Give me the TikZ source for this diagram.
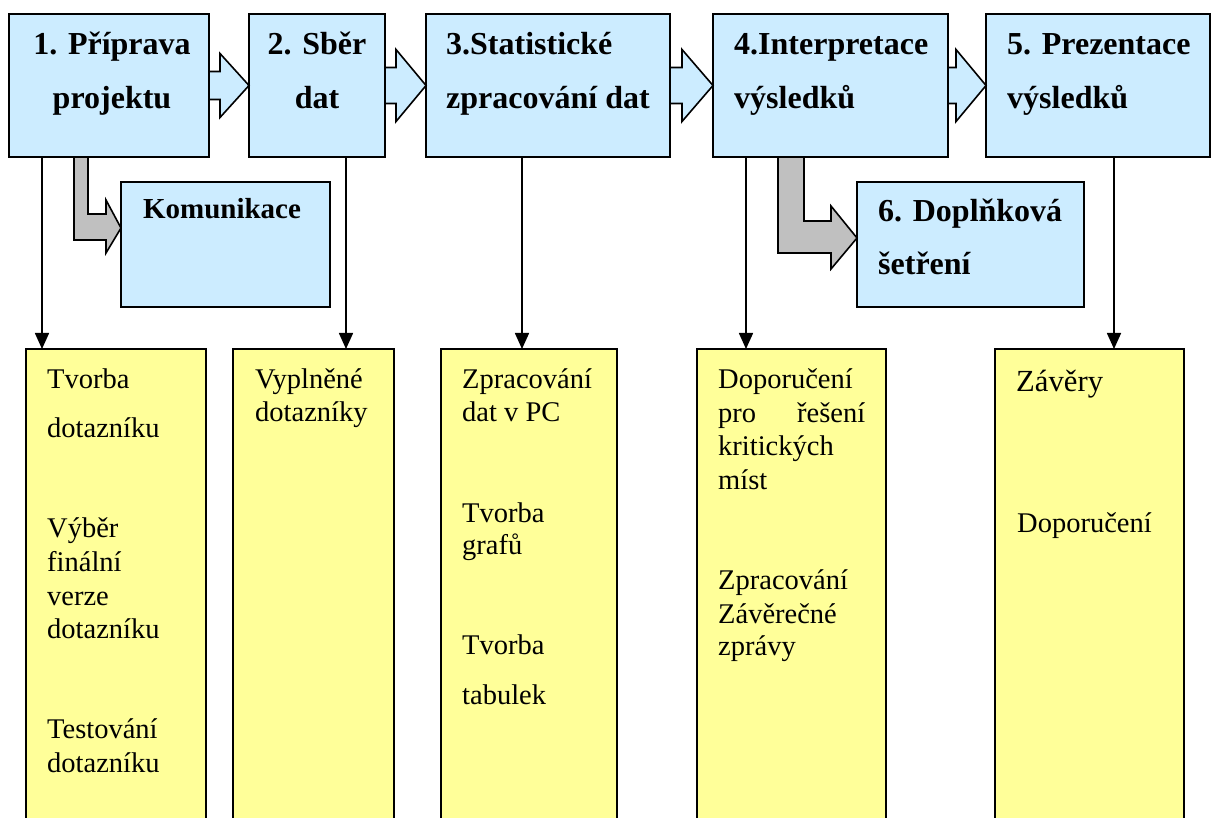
\documentclass[tikz,border=0pt]{standalone}
\usepackage{fontspec}
\setmainfont{Liberation Serif}
\usetikzlibrary{arrows.meta,calc}
\definecolor{stepblue}{HTML}{CCECFF}
\definecolor{noteyellow}{HTML}{FFFF99}
\definecolor{bendgray}{HTML}{C0C0C0}
\tikzset{
  phase/.style={draw=black, fill=stepblue, line width=1.6pt, anchor=north west, inner sep=0pt, outer sep=0pt},
  note/.style={draw=black, fill=noteyellow, line width=1.6pt, anchor=north west, inner sep=0pt, outer sep=0pt},
  flow/.style={draw=black, fill=stepblue, line width=1.6pt, line join=miter},
  elbow/.style={draw=black, fill=bendgray, line width=1.6pt, line join=miter},
  link/.style={draw=black, line width=1.6pt, -{Triangle[length=16pt,width=14pt]}},
  ttl/.style={inner sep=0pt, font=\fontsize{32}{36}\selectfont\bfseries},
  body/.style={anchor=base west, inner sep=0pt, font=\fontsize{28.5}{32}\selectfont},
}
\begin{document}
\begin{tikzpicture}[x=1pt,y=-1pt]
\useasboundingbox (0,0) rectangle (1213,818);
\clip (0,0) rectangle (1213,818);
\fill[white] (0,0) rectangle (1213,818);

% main phases
\node[phase, minimum width=200pt, minimum height=143pt] (b1) at (9,14) {};
\node[phase, minimum width=136pt, minimum height=143pt] (b2) at (249,14) {};
\node[phase, minimum width=244pt, minimum height=143pt] (b3) at (426,14) {};
\node[phase, minimum width=235pt, minimum height=143pt] (b4) at (713,14) {};
\node[phase, minimum width=224pt, minimum height=143pt] (b5) at (986,14) {};

% side phases
\node[phase, minimum width=209pt, minimum height=125pt] (k) at (121,182) {};
\node[phase, minimum width=227pt, minimum height=125pt] (b6) at (857,182) {};

% activity columns
\node[note, minimum width=180pt, minimum height=481pt] (y1) at (26,349) {};
\node[note, minimum width=161pt, minimum height=481pt] (y2) at (233,349) {};
\node[note, minimum width=176pt, minimum height=481pt] (y3) at (441,349) {};
\node[note, minimum width=189pt, minimum height=481pt] (y4) at (697,349) {};
\node[note, minimum width=189pt, minimum height=481pt] (y5) at (995,349) {};

% block arrows between phases
\draw[flow] ($(b1.east)+(0,-14)$) -- ++(11,0) -- ++(0,-18) -- (b2.west)
  -- ($(b1.east)+(11,32)$) -- ++(0,-18) -- ++(-11,0) -- cycle;
\draw[flow] ($(b2.east)+(0,-18)$) -- ++(11,0) -- ++(0,-18) -- (b3.west)
  -- ($(b2.east)+(11,36)$) -- ++(0,-18) -- ++(-11,0) -- cycle;
\draw[flow] ($(b3.east)+(0,-18)$) -- ++(12,0) -- ++(0,-18) -- (b4.west)
  -- ($(b3.east)+(12,36)$) -- ++(0,-18) -- ++(-12,0) -- cycle;
\draw[flow] ($(b4.east)+(0,-18)$) -- ++(8,0) -- ++(0,-18) -- (b5.west)
  -- ($(b4.east)+(8,36)$) -- ++(0,-18) -- ++(-8,0) -- cycle;

% bent arrows to the side phases
\draw[elbow] ($(b1.south west)+(65,0)$) -- ++(0,83) -- ++(32,0) -- ++(0,13)
  -- ($(k.north west)+(0,46)$) -- ($(b1.south west)+(97,43)$) -- ++(0,14)
  -- ++(-18,0) -- ++(0,-57) -- cycle;
\draw[elbow] ($(b4.south west)+(65,0)$) -- ++(0,96) -- ++(53,0) -- ++(0,16)
  -- ($(b6.north west)+(0,56)$) -- ($(b4.south west)+(118,49)$) -- ++(0,15)
  -- ++(-27,0) -- ++(0,-64) -- cycle;

% links from phases to activities
\coordinate (l1) at ($(b1.south west)+(33,0)$);
\coordinate (l2) at ($(b2.south west)+(97,0)$);
\coordinate (l3) at ($(b3.south west)+(96,0)$);
\coordinate (l4) at ($(b4.south west)+(33,0)$);
\coordinate (l5) at ($(b5.south west)+(128,0)$);
\draw[link] (l1) -- (l1 |- y1.north);
\draw[link] (l2) -- (l2 |- y2.north);
\draw[link] (l3) -- (l3 |- y3.north);
\draw[link] (l4) -- (l4 |- y4.north);
\draw[link] (l5) -- (l5 |- y5.north);

% phase titles
\node[ttl, anchor=base] (t1a) at (112,55) {1. Příprava};
\node[ttl, anchor=base] (t1b) at (112,109) {projektu};
\node[ttl, anchor=base] (t2a) at (317,55) {2. Sběr};
\node[ttl, anchor=base] (t2b) at (317,109) {dat};
\node[ttl, anchor=base west] (t3a) at (446,55) {3.Statistické};
\node[ttl, anchor=base west] (t3b) at (446,109) {zpracování dat};
\node[ttl, anchor=base west] (t4a) at (734,55) {4.Interpretace};
\node[ttl, anchor=base west] (t4b) at (734,109) {výsledků};
\node[ttl, anchor=base west] (t5a) at (1007,55) {5. Prezentace};
\node[ttl, anchor=base west] (t5b) at (1007,109) {výsledků};
\node[ttl, anchor=base west] (t6a) at (878,222) {6. Doplňková};
\node[ttl, anchor=base west] (t6b) at (878,275) {šetření};
\node[inner sep=0pt, anchor=base, font=\fontsize{29}{33}\selectfont\bfseries] (tk) at (222,219) {Komunikace};

% column 1
\node[body] (c1a) at (47,388) {Tvorba};
\node[body] (c1b) at (47,437) {dotazníku};
\node[body] (c1c) at (47,537) {Výběr};
\node[body] (c1d) at (47,571) {finální};
\node[body] (c1e) at (47,605) {verze};
\node[body] (c1f) at (47,638) {dotazníku};
\node[body] (c1g) at (47,738) {Testování};
\node[body] (c1h) at (47,772) {dotazníku};

% column 2
\node[body] (c2a) at (255,388) {Vyplněné};
\node[body] (c2b) at (255,421) {dotazníky};

% column 3
\node[body] (c3a) at (462,388) {Zpracování};
\node[body] (c3b) at (462,421) {dat v PC};
\node[body] (c3c) at (462,522) {Tvorba};
\node[body] (c3d) at (462,554) {grafů};
\node[body] (c3e) at (462,654) {Tvorba};
\node[body] (c3f) at (462,704) {tabulek};

% column 4
\node[body] (c4a) at (718,388) {Doporučení};
\node[body] (c4b) at (718,422) {\hbox to 147pt{pro\hfill řešení}};
\node[body] (c4c) at (718,455) {kritických};
\node[body] (c4d) at (718,489) {míst};
\node[body] (c4e) at (718,589) {Zpracování};
\node[body] (c4f) at (718,623) {Závěrečné};
\node[body] (c4g) at (718,655) {zprávy};

% column 5
\node[body, font=\fontsize{30.7}{34}\selectfont] (c5a) at (1016,391) {Závěry};
\node[body] (c5b) at (1017,532) {Doporučení};
\end{tikzpicture}
\end{document}
